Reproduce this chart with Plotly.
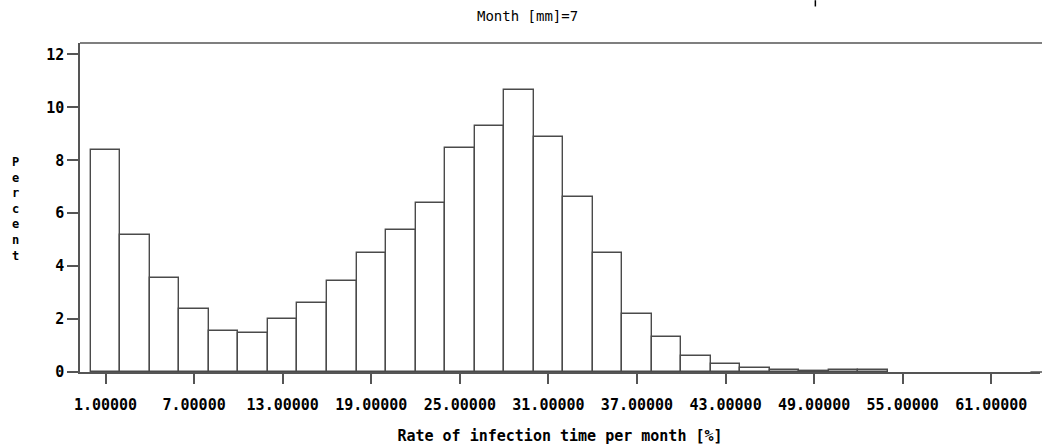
import plotly.graph_objects as go

# Histogram bins (midpoints, width 2) and percent values
bin_mid = [1, 3, 5, 7, 9, 11, 13, 15, 17, 19, 21, 23, 25, 27, 29, 31, 33, 35, 37, 39,
           41, 43, 45, 47, 49, 51, 53]
percent = [8.40, 5.19, 3.56, 2.37, 1.54, 1.49, 2.02, 2.60, 3.44, 4.50, 5.37, 6.39, 8.45,
           9.28, 10.64, 8.89, 6.61, 4.50, 2.21, 1.33, 0.62, 0.32, 0.17, 0.06, 0.02, 0.06, 0.06]
bin_width = 2
title_text = "Month [mm]=7"
x_title = "Rate of infection time per month [%]"
y_title = "Percent"

MONO = "DejaVu Sans Mono"
INK = "#000000"

fig = go.Figure()
fig.add_trace(go.Bar(
    x=bin_mid, y=percent, width=[bin_width] * len(bin_mid),
    marker=dict(color="white", line=dict(color="#4a4a4a", width=1.4)),
    hoverinfo="x+y",
))

fig.update_layout(
    template="none",
    width=1042, height=445,
    margin=dict(l=80, r=2, t=43, b=73, pad=0),
    paper_bgcolor="white", plot_bgcolor="white",
    showlegend=False, bargap=0,
    font=dict(family=MONO, color=INK, size=14),
    xaxis=dict(
        range=[-0.73, 64.3], tickmode="linear", tick0=1, dtick=6, tickformat=".5f",
        showgrid=False, zeroline=False, showline=True, linecolor="#555555", linewidth=1.5,
        mirror=False, ticks="outside", ticklen=10, tickcolor="#555555", tickwidth=1.5,
        ticklabelstandoff=8,
        tickfont=dict(family=MONO, size=15, weight="bold"),
        title=dict(text=x_title, font=dict(family=MONO, size=15, weight="bold"), standoff=22),
    ),
    yaxis=dict(
        range=[0, 12.43], tickmode="linear", tick0=0, dtick=2,
        showgrid=False, zeroline=False, showline=True, linecolor="#555555", linewidth=1.5,
        mirror=False, ticks="outside", ticklen=11, tickcolor="#555555", tickwidth=1.5,
        tickfont=dict(family=MONO, size=15, weight="bold"),
    ),
)

# white strip hiding any right-hand frame edge (the reference frame is open on the right)
fig.add_shape(type="rect", xref="paper", yref="paper", x0=0.995, x1=1.02, y0=0.006, y1=0.994,
              line=dict(width=0), fillcolor="white", layer="above")
# top frame line and bottom line continuing to the page edge
fig.add_shape(type="line", xref="paper", yref="paper", x0=0, x1=1.01, y0=1, y1=1,
              line=dict(color="#555555", width=1.5))
fig.add_shape(type="line", xref="paper", yref="paper", x0=0.99, x1=1.01, y0=0, y1=0,
              line=dict(color="#555555", width=1.5))

fig.add_annotation(
    text="<br>".join(list(y_title)), xref="paper", yref="paper",
    x=-0.0676, y=0.495, xanchor="center", yanchor="middle", showarrow=False,
    font=dict(family=MONO, size=12, weight="bold"), align="center",
)
fig.add_annotation(
    text=title_text, xref="paper", yref="paper",
    x=0.4657, y=1.081, xanchor="center", yanchor="middle", showarrow=False,
    font=dict(family=MONO, size=14),
)
fig.add_shape(type="line", xref="paper", yref="paper", x0=0.766, x1=0.766, y0=1.111, y1=1.13,
              line=dict(color="black", width=1.5))

fig.write_html("out.html", config={"displayModeBar": False})
